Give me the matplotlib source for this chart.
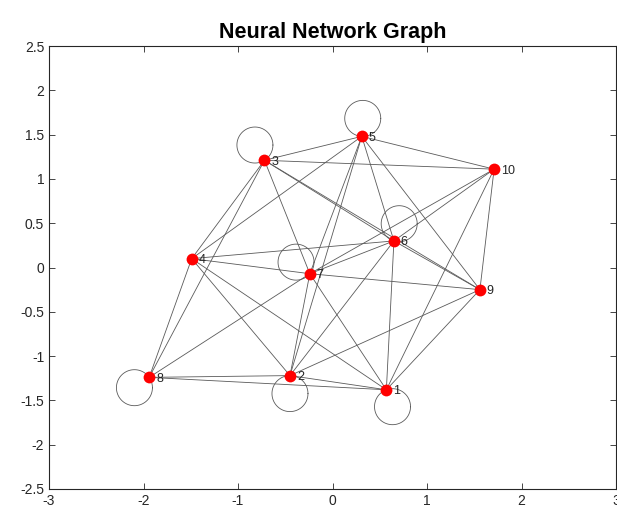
import numpy as np
from matplotlib import pyplot as plt

# node coordinates
node_ids = [1, 2, 3, 4, 5, 6, 7, 8, 9, 10]
node_x = [0.57, -0.45, -0.72, -1.49, 0.31, 0.65, -0.24, -1.94, 1.56, 1.71]
node_y = [-1.38, -1.22, 1.21, 0.10, 1.48, 0.30, -0.07, -1.24, -0.25, 1.11]

# edges (pairs of node ids)
edge_src = [1, 1, 1, 1, 1, 1, 1,
            2, 2, 2, 2, 2, 2,
            3, 3, 3, 3, 3, 3, 3,
            4, 4, 4, 4,
            5, 5, 5, 5,
            6, 6, 6,
            7, 7, 7,
            9]
edge_dst = [2, 8, 4, 7, 6, 10, 9,
            8, 7, 5, 4, 6, 9,
            4, 8, 7, 5, 10, 6, 9,
            8, 5, 6, 7,
            7, 6, 9, 10,
            9, 10, 7,
            8, 10, 9,
            10]

# nodes that have a self-loop
loop_nodes = [1, 2, 3, 5, 6, 7, 8]

# loop direction (degrees, screen space) - styling only
loop_angle = {1: -70, 2: -90, 3: 122, 5: 87, 6: 73, 7: 140, 8: 215}

plt.rcParams['font.family'] = ['Liberation Sans', 'DejaVu Sans']
plt.rcParams['axes.unicode_minus'] = False

fig = plt.figure(figsize=(6.17, 5.17), dpi=100)
ax = fig.add_axes([49 / 617, 28 / 517, 567 / 617, 443 / 517])
ax.set_xlim(-3, 3)
ax.set_ylim(-2.5, 2.5)

edge_col = '#5a5a5a'
pos = {n: (x, y) for n, x, y in zip(node_ids, node_x, node_y)}

for s, d in zip(edge_src, edge_dst):
    ax.plot([pos[s][0], pos[d][0]], [pos[s][1], pos[d][1]],
            color=edge_col, lw=0.6, zorder=1)

# self-loops: circles of fixed pixel radius touching the node
r_px = 18.0
sx = ax.get_position().width * 617 / 6.0
sy = ax.get_position().height * 517 / 5.0
t = np.linspace(0, 2 * np.pi, 100)
for n in loop_nodes:
    a = np.deg2rad(loop_angle[n])
    cx = pos[n][0] + r_px * np.cos(a) / sx
    cy = pos[n][1] + r_px * np.sin(a) / sy
    ax.plot(cx + r_px * np.cos(t) / sx, cy + r_px * np.sin(t) / sy,
            color=edge_col, lw=0.6, zorder=1)

ax.plot(node_x, node_y, 'o', color='red', markersize=8.5, zorder=3,
        markeredgewidth=0)

for n, x, y in zip(node_ids, node_x, node_y):
    ax.annotate(str(n), (x, y), xytext=(5, -1), textcoords='offset points',
                fontsize=9, color='#262626', va='center', ha='left', zorder=4)

ax.set_xticks([-3, -2, -1, 0, 1, 2, 3])
ax.set_yticks([-2.5, -2, -1.5, -1, -0.5, 0, 0.5, 1, 1.5, 2, 2.5])
ax.set_yticklabels(['-2.5', '-2', '-1.5', '-1', '-0.5', '0', '0.5', '1',
                    '1.5', '2', '2.5'])
ax.tick_params(direction='in', top=True, right=True, labelsize=10,
               colors='#262626', length=4, width=0.6)
for sp in ax.spines.values():
    sp.set_linewidth(0.8)
    sp.set_color('#262626')

ax.set_title('Neural Network Graph', fontsize=15.5, fontweight='bold', pad=6)

fig.savefig('out.png', dpi=100)
